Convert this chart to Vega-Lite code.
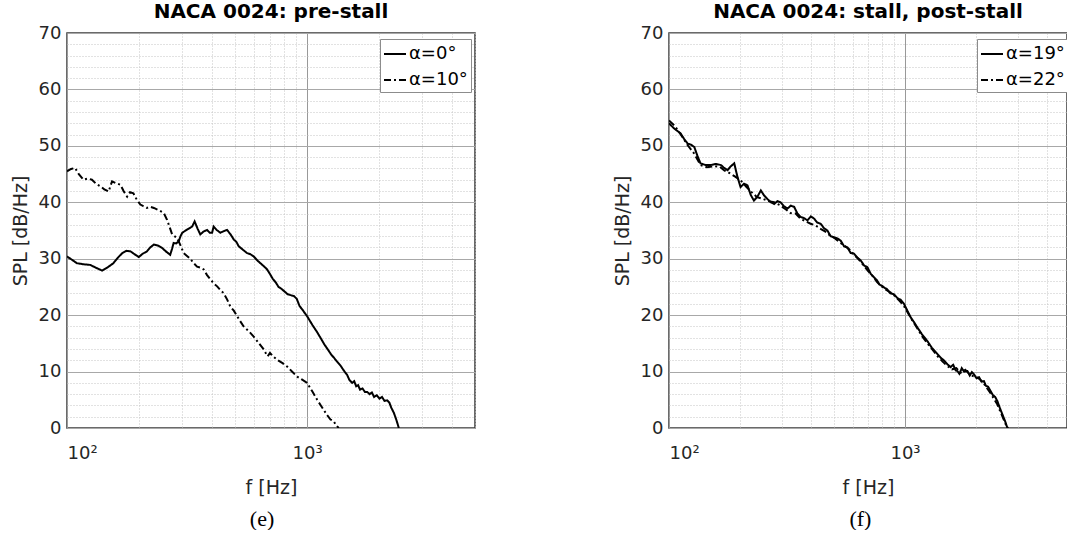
{
  "$schema": "https://vega.github.io/schema/vega-lite/v6.json",
  "padding": {"left": 10, "top": 1, "right": 0, "bottom": 0},
  "background": "white",
  "config": {
    "font": "DejaVu Sans",
    "view": {"stroke": "#3a3a3a", "strokeWidth": 1.5},
    "axis": {
      "labelFont": "DejaVu Sans",
      "labelFontSize": 18,
      "labelColor": "#262626",
      "titleFont": "DejaVu Sans",
      "titleFontSize": 19,
      "titleFontWeight": "normal",
      "titleColor": "#262626",
      "ticks": false,
      "domain": false,
      "labelOverlap": false
    },
    "legend": {
      "labelFont": "DejaVu Sans",
      "labelFontSize": 18,
      "labelColor": "black"
    },
    "title": {"font": "DejaVu Sans", "color": "black"}
  },
  "resolve": {"scale": {"strokeDash": "independent"}, "legend": {"strokeDash": "independent"}},
  "datasets": {
    "e": [
      {"f": 100, "spl": 30.4, "series": "α=0°"},
      {"f": 105, "spl": 29.8, "series": "α=0°"},
      {"f": 110, "spl": 29.2, "series": "α=0°"},
      {"f": 118, "spl": 29.0, "series": "α=0°"},
      {"f": 125, "spl": 28.9, "series": "α=0°"},
      {"f": 132, "spl": 28.4, "series": "α=0°"},
      {"f": 140, "spl": 27.9, "series": "α=0°"},
      {"f": 148, "spl": 28.5, "series": "α=0°"},
      {"f": 156, "spl": 29.2, "series": "α=0°"},
      {"f": 163, "spl": 30.2, "series": "α=0°"},
      {"f": 170, "spl": 31.0, "series": "α=0°"},
      {"f": 177, "spl": 31.4, "series": "α=0°"},
      {"f": 184, "spl": 31.3, "series": "α=0°"},
      {"f": 191, "spl": 30.8, "series": "α=0°"},
      {"f": 199, "spl": 30.3, "series": "α=0°"},
      {"f": 207, "spl": 30.9, "series": "α=0°"},
      {"f": 215, "spl": 31.3, "series": "α=0°"},
      {"f": 222, "spl": 32.0, "series": "α=0°"},
      {"f": 230, "spl": 32.5, "series": "α=0°"},
      {"f": 240, "spl": 32.3, "series": "α=0°"},
      {"f": 249, "spl": 31.9, "series": "α=0°"},
      {"f": 258, "spl": 31.3, "series": "α=0°"},
      {"f": 269, "spl": 30.7, "series": "α=0°"},
      {"f": 274, "spl": 31.8, "series": "α=0°"},
      {"f": 278, "spl": 32.8, "series": "α=0°"},
      {"f": 285, "spl": 32.7, "series": "α=0°"},
      {"f": 292, "spl": 33.1, "series": "α=0°"},
      {"f": 297, "spl": 34.0, "series": "α=0°"},
      {"f": 302, "spl": 34.6, "series": "α=0°"},
      {"f": 317, "spl": 35.2, "series": "α=0°"},
      {"f": 332, "spl": 35.7, "series": "α=0°"},
      {"f": 340, "spl": 36.6, "series": "α=0°"},
      {"f": 350, "spl": 35.3, "series": "α=0°"},
      {"f": 359, "spl": 34.3, "series": "α=0°"},
      {"f": 370, "spl": 34.8, "series": "α=0°"},
      {"f": 383, "spl": 35.1, "series": "α=0°"},
      {"f": 393, "spl": 34.6, "series": "α=0°"},
      {"f": 402, "spl": 34.6, "series": "α=0°"},
      {"f": 408, "spl": 35.7, "series": "α=0°"},
      {"f": 420, "spl": 35.1, "series": "α=0°"},
      {"f": 435, "spl": 34.6, "series": "α=0°"},
      {"f": 450, "spl": 34.9, "series": "α=0°"},
      {"f": 464, "spl": 35.1, "series": "α=0°"},
      {"f": 480, "spl": 34.3, "series": "α=0°"},
      {"f": 495, "spl": 33.4, "series": "α=0°"},
      {"f": 507, "spl": 33.0, "series": "α=0°"},
      {"f": 519, "spl": 32.2, "series": "α=0°"},
      {"f": 540, "spl": 31.6, "series": "α=0°"},
      {"f": 562, "spl": 31.0, "series": "α=0°"},
      {"f": 580, "spl": 30.8, "series": "α=0°"},
      {"f": 599, "spl": 30.4, "series": "α=0°"},
      {"f": 620, "spl": 29.7, "series": "α=0°"},
      {"f": 639, "spl": 29.2, "series": "α=0°"},
      {"f": 655, "spl": 28.8, "series": "α=0°"},
      {"f": 671, "spl": 28.4, "series": "α=0°"},
      {"f": 681, "spl": 28.1, "series": "α=0°"},
      {"f": 700, "spl": 27.3, "series": "α=0°"},
      {"f": 720, "spl": 26.4, "series": "α=0°"},
      {"f": 740, "spl": 25.8, "series": "α=0°"},
      {"f": 760, "spl": 25.0, "series": "α=0°"},
      {"f": 774, "spl": 24.8, "series": "α=0°"},
      {"f": 800, "spl": 24.3, "series": "α=0°"},
      {"f": 830, "spl": 23.7, "series": "α=0°"},
      {"f": 860, "spl": 23.5, "series": "α=0°"},
      {"f": 880, "spl": 23.4, "series": "α=0°"},
      {"f": 905, "spl": 22.9, "series": "α=0°"},
      {"f": 930, "spl": 21.6, "series": "α=0°"},
      {"f": 955, "spl": 21.0, "series": "α=0°"},
      {"f": 980, "spl": 20.3, "series": "α=0°"},
      {"f": 1000, "spl": 19.8, "series": "α=0°"},
      {"f": 1050, "spl": 18.3, "series": "α=0°"},
      {"f": 1100, "spl": 17.0, "series": "α=0°"},
      {"f": 1136, "spl": 16.0, "series": "α=0°"},
      {"f": 1180, "spl": 14.8, "series": "α=0°"},
      {"f": 1220, "spl": 13.9, "series": "α=0°"},
      {"f": 1260, "spl": 13.0, "series": "α=0°"},
      {"f": 1291, "spl": 12.5, "series": "α=0°"},
      {"f": 1330, "spl": 11.8, "series": "α=0°"},
      {"f": 1380, "spl": 11.0, "series": "α=0°"},
      {"f": 1420, "spl": 10.2, "series": "α=0°"},
      {"f": 1468, "spl": 9.4, "series": "α=0°"},
      {"f": 1500, "spl": 8.5, "series": "α=0°"},
      {"f": 1540, "spl": 8.0, "series": "α=0°"},
      {"f": 1570, "spl": 8.3, "series": "α=0°"},
      {"f": 1600, "spl": 7.4, "series": "α=0°"},
      {"f": 1630, "spl": 7.6, "series": "α=0°"},
      {"f": 1660, "spl": 6.8, "series": "α=0°"},
      {"f": 1700, "spl": 7.0, "series": "α=0°"},
      {"f": 1740, "spl": 6.4, "series": "α=0°"},
      {"f": 1778, "spl": 6.4, "series": "α=0°"},
      {"f": 1820, "spl": 6.0, "series": "α=0°"},
      {"f": 1860, "spl": 6.3, "series": "α=0°"},
      {"f": 1900, "spl": 5.5, "series": "α=0°"},
      {"f": 1950, "spl": 5.8, "series": "α=0°"},
      {"f": 2000, "spl": 5.2, "series": "α=0°"},
      {"f": 2050, "spl": 5.5, "series": "α=0°"},
      {"f": 2100, "spl": 4.8, "series": "α=0°"},
      {"f": 2154, "spl": 4.9, "series": "α=0°"},
      {"f": 2200, "spl": 4.5, "series": "α=0°"},
      {"f": 2240, "spl": 3.6, "series": "α=0°"},
      {"f": 2296, "spl": 2.7, "series": "α=0°"},
      {"f": 2350, "spl": 1.5, "series": "α=0°"},
      {"f": 2409, "spl": 0.0, "series": "α=0°"},
      {"f": 100, "spl": 45.5, "series": "α=10°"},
      {"f": 104, "spl": 45.9, "series": "α=10°"},
      {"f": 108, "spl": 46.1, "series": "α=10°"},
      {"f": 112, "spl": 45.0, "series": "α=10°"},
      {"f": 117, "spl": 44.0, "series": "α=10°"},
      {"f": 122, "spl": 44.2, "series": "α=10°"},
      {"f": 127, "spl": 44.0, "series": "α=10°"},
      {"f": 132, "spl": 43.3, "series": "α=10°"},
      {"f": 138, "spl": 42.8, "series": "α=10°"},
      {"f": 143, "spl": 42.3, "series": "α=10°"},
      {"f": 149, "spl": 41.9, "series": "α=10°"},
      {"f": 154, "spl": 43.7, "series": "α=10°"},
      {"f": 160, "spl": 43.4, "series": "α=10°"},
      {"f": 167, "spl": 43.1, "series": "α=10°"},
      {"f": 172, "spl": 42.0, "series": "α=10°"},
      {"f": 178, "spl": 41.0, "series": "α=10°"},
      {"f": 183, "spl": 41.8, "series": "α=10°"},
      {"f": 189, "spl": 41.6, "series": "α=10°"},
      {"f": 195, "spl": 40.5, "series": "α=10°"},
      {"f": 202, "spl": 39.6, "series": "α=10°"},
      {"f": 208, "spl": 39.3, "series": "α=10°"},
      {"f": 215, "spl": 39.0, "series": "α=10°"},
      {"f": 222, "spl": 39.2, "series": "α=10°"},
      {"f": 230, "spl": 39.0, "series": "α=10°"},
      {"f": 241, "spl": 38.6, "series": "α=10°"},
      {"f": 253, "spl": 38.1, "series": "α=10°"},
      {"f": 261, "spl": 36.9, "series": "α=10°"},
      {"f": 268, "spl": 35.5, "series": "α=10°"},
      {"f": 274, "spl": 34.3, "series": "α=10°"},
      {"f": 280, "spl": 34.0, "series": "α=10°"},
      {"f": 287, "spl": 33.7, "series": "α=10°"},
      {"f": 296, "spl": 32.5, "series": "α=10°"},
      {"f": 306, "spl": 31.0, "series": "α=10°"},
      {"f": 316, "spl": 30.5, "series": "α=10°"},
      {"f": 326, "spl": 30.0, "series": "α=10°"},
      {"f": 337, "spl": 29.2, "series": "α=10°"},
      {"f": 348, "spl": 28.6, "series": "α=10°"},
      {"f": 360, "spl": 28.4, "series": "α=10°"},
      {"f": 371, "spl": 28.1, "series": "α=10°"},
      {"f": 383, "spl": 27.1, "series": "α=10°"},
      {"f": 396, "spl": 26.3, "series": "α=10°"},
      {"f": 409, "spl": 25.6, "series": "α=10°"},
      {"f": 422, "spl": 25.1, "series": "α=10°"},
      {"f": 436, "spl": 24.4, "series": "α=10°"},
      {"f": 449, "spl": 23.9, "series": "α=10°"},
      {"f": 464, "spl": 22.8, "series": "α=10°"},
      {"f": 479, "spl": 21.5, "series": "α=10°"},
      {"f": 495, "spl": 20.8, "series": "α=10°"},
      {"f": 511, "spl": 19.8, "series": "α=10°"},
      {"f": 527, "spl": 18.9, "series": "α=10°"},
      {"f": 544, "spl": 18.0, "series": "α=10°"},
      {"f": 570, "spl": 17.2, "series": "α=10°"},
      {"f": 599, "spl": 16.2, "series": "α=10°"},
      {"f": 630, "spl": 15.0, "series": "α=10°"},
      {"f": 660, "spl": 13.9, "series": "α=10°"},
      {"f": 672, "spl": 13.3, "series": "α=10°"},
      {"f": 685, "spl": 12.7, "series": "α=10°"},
      {"f": 700, "spl": 13.3, "series": "α=10°"},
      {"f": 725, "spl": 12.6, "series": "α=10°"},
      {"f": 750, "spl": 12.1, "series": "α=10°"},
      {"f": 790, "spl": 11.5, "series": "α=10°"},
      {"f": 825, "spl": 10.9, "series": "α=10°"},
      {"f": 865, "spl": 10.0, "series": "α=10°"},
      {"f": 909, "spl": 9.1, "series": "α=10°"},
      {"f": 950, "spl": 8.6, "series": "α=10°"},
      {"f": 1000, "spl": 8.0, "series": "α=10°"},
      {"f": 1050, "spl": 6.5, "series": "α=10°"},
      {"f": 1101, "spl": 5.0, "series": "α=10°"},
      {"f": 1140, "spl": 4.0, "series": "α=10°"},
      {"f": 1173, "spl": 3.2, "series": "α=10°"},
      {"f": 1210, "spl": 2.3, "series": "α=10°"},
      {"f": 1251, "spl": 1.5, "series": "α=10°"},
      {"f": 1290, "spl": 1.2, "series": "α=10°"},
      {"f": 1320, "spl": 0.5, "series": "α=10°"},
      {"f": 1354, "spl": 0.0, "series": "α=10°"}
    ],
    "f": [
      {"f": 100, "spl": 54.0, "series": "α=19°"},
      {"f": 105, "spl": 53.1, "series": "α=19°"},
      {"f": 112, "spl": 52.2, "series": "α=19°"},
      {"f": 116, "spl": 51.2, "series": "α=19°"},
      {"f": 120, "spl": 50.4, "series": "α=19°"},
      {"f": 124, "spl": 50.2, "series": "α=19°"},
      {"f": 128, "spl": 49.8, "series": "α=19°"},
      {"f": 132, "spl": 48.2, "series": "α=19°"},
      {"f": 136, "spl": 46.9, "series": "α=19°"},
      {"f": 143, "spl": 46.6, "series": "α=19°"},
      {"f": 150, "spl": 46.6, "series": "α=19°"},
      {"f": 158, "spl": 46.8, "series": "α=19°"},
      {"f": 166, "spl": 46.6, "series": "α=19°"},
      {"f": 171, "spl": 46.1, "series": "α=19°"},
      {"f": 177, "spl": 45.7, "series": "α=19°"},
      {"f": 183, "spl": 46.4, "series": "α=19°"},
      {"f": 189, "spl": 46.9, "series": "α=19°"},
      {"f": 195, "spl": 44.5, "series": "α=19°"},
      {"f": 201, "spl": 42.7, "series": "α=19°"},
      {"f": 208, "spl": 43.3, "series": "α=19°"},
      {"f": 215, "spl": 43.0, "series": "α=19°"},
      {"f": 222, "spl": 41.3, "series": "α=19°"},
      {"f": 229, "spl": 40.3, "series": "α=19°"},
      {"f": 237, "spl": 41.0, "series": "α=19°"},
      {"f": 245, "spl": 42.1, "series": "α=19°"},
      {"f": 253, "spl": 41.2, "series": "α=19°"},
      {"f": 261, "spl": 40.6, "series": "α=19°"},
      {"f": 270, "spl": 40.0, "series": "α=19°"},
      {"f": 279, "spl": 39.7, "series": "α=19°"},
      {"f": 288, "spl": 40.2, "series": "α=19°"},
      {"f": 297, "spl": 40.0, "series": "α=19°"},
      {"f": 307, "spl": 39.3, "series": "α=19°"},
      {"f": 318, "spl": 38.9, "series": "α=19°"},
      {"f": 328, "spl": 39.4, "series": "α=19°"},
      {"f": 339, "spl": 39.2, "series": "α=19°"},
      {"f": 350, "spl": 38.0, "series": "α=19°"},
      {"f": 361, "spl": 37.4, "series": "α=19°"},
      {"f": 373, "spl": 37.2, "series": "α=19°"},
      {"f": 386, "spl": 36.8, "series": "α=19°"},
      {"f": 399, "spl": 37.5, "series": "α=19°"},
      {"f": 412, "spl": 37.1, "series": "α=19°"},
      {"f": 425, "spl": 36.4, "series": "α=19°"},
      {"f": 439, "spl": 36.2, "series": "α=19°"},
      {"f": 454, "spl": 35.4, "series": "α=19°"},
      {"f": 469, "spl": 35.0, "series": "α=19°"},
      {"f": 484, "spl": 34.0, "series": "α=19°"},
      {"f": 500, "spl": 33.8, "series": "α=19°"},
      {"f": 517, "spl": 33.6, "series": "α=19°"},
      {"f": 534, "spl": 33.2, "series": "α=19°"},
      {"f": 552, "spl": 32.2, "series": "α=19°"},
      {"f": 570, "spl": 32.0, "series": "α=19°"},
      {"f": 589, "spl": 31.0, "series": "α=19°"},
      {"f": 608, "spl": 30.9, "series": "α=19°"},
      {"f": 628, "spl": 30.2, "series": "α=19°"},
      {"f": 649, "spl": 29.7, "series": "α=19°"},
      {"f": 671, "spl": 28.8, "series": "α=19°"},
      {"f": 693, "spl": 28.5, "series": "α=19°"},
      {"f": 716, "spl": 27.3, "series": "α=19°"},
      {"f": 739, "spl": 26.7, "series": "α=19°"},
      {"f": 760, "spl": 26.2, "series": "α=19°"},
      {"f": 780, "spl": 25.4, "series": "α=19°"},
      {"f": 800, "spl": 25.2, "series": "α=19°"},
      {"f": 815, "spl": 24.9, "series": "α=19°"},
      {"f": 840, "spl": 24.6, "series": "α=19°"},
      {"f": 865, "spl": 23.9, "series": "α=19°"},
      {"f": 898, "spl": 23.7, "series": "α=19°"},
      {"f": 930, "spl": 23.0, "series": "α=19°"},
      {"f": 960, "spl": 22.7, "series": "α=19°"},
      {"f": 990, "spl": 22.0, "series": "α=19°"},
      {"f": 1020, "spl": 20.9, "series": "α=19°"},
      {"f": 1057, "spl": 19.6, "series": "α=19°"},
      {"f": 1090, "spl": 18.8, "series": "α=19°"},
      {"f": 1129, "spl": 17.8, "series": "α=19°"},
      {"f": 1180, "spl": 16.6, "series": "α=19°"},
      {"f": 1244, "spl": 15.4, "series": "α=19°"},
      {"f": 1300, "spl": 14.2, "series": "α=19°"},
      {"f": 1372, "spl": 13.1, "series": "α=19°"},
      {"f": 1420, "spl": 12.4, "series": "α=19°"},
      {"f": 1460, "spl": 12.0, "series": "α=19°"},
      {"f": 1512, "spl": 11.3, "series": "α=19°"},
      {"f": 1560, "spl": 10.8, "series": "α=19°"},
      {"f": 1600, "spl": 11.2, "series": "α=19°"},
      {"f": 1640, "spl": 10.2, "series": "α=19°"},
      {"f": 1667, "spl": 10.1, "series": "α=19°"},
      {"f": 1700, "spl": 9.6, "series": "α=19°"},
      {"f": 1740, "spl": 10.6, "series": "α=19°"},
      {"f": 1780, "spl": 10.0, "series": "α=19°"},
      {"f": 1838, "spl": 10.1, "series": "α=19°"},
      {"f": 1880, "spl": 9.3, "series": "α=19°"},
      {"f": 1920, "spl": 9.9, "series": "α=19°"},
      {"f": 1961, "spl": 9.5, "series": "α=19°"},
      {"f": 2010, "spl": 8.8, "series": "α=19°"},
      {"f": 2060, "spl": 9.0, "series": "α=19°"},
      {"f": 2110, "spl": 8.2, "series": "α=19°"},
      {"f": 2161, "spl": 8.3, "series": "α=19°"},
      {"f": 2200, "spl": 7.5, "series": "α=19°"},
      {"f": 2250, "spl": 7.3, "series": "α=19°"},
      {"f": 2308, "spl": 6.5, "series": "α=19°"},
      {"f": 2360, "spl": 5.8, "series": "α=19°"},
      {"f": 2410, "spl": 5.5, "series": "α=19°"},
      {"f": 2463, "spl": 4.75, "series": "α=19°"},
      {"f": 2520, "spl": 3.6, "series": "α=19°"},
      {"f": 2586, "spl": 2.4, "series": "α=19°"},
      {"f": 2650, "spl": 1.3, "series": "α=19°"},
      {"f": 2716, "spl": 0.0, "series": "α=19°"},
      {"f": 100, "spl": 54.5, "series": "α=22°"},
      {"f": 106, "spl": 53.5, "series": "α=22°"},
      {"f": 113, "spl": 51.8, "series": "α=22°"},
      {"f": 120, "spl": 50.1, "series": "α=22°"},
      {"f": 128, "spl": 48.6, "series": "α=22°"},
      {"f": 136, "spl": 46.6, "series": "α=22°"},
      {"f": 145, "spl": 46.2, "series": "α=22°"},
      {"f": 155, "spl": 46.4, "series": "α=22°"},
      {"f": 164, "spl": 46.3, "series": "α=22°"},
      {"f": 172, "spl": 45.6, "series": "α=22°"},
      {"f": 180, "spl": 45.2, "series": "α=22°"},
      {"f": 190, "spl": 44.6, "series": "α=22°"},
      {"f": 201, "spl": 43.9, "series": "α=22°"},
      {"f": 212, "spl": 42.8, "series": "α=22°"},
      {"f": 224, "spl": 41.8, "series": "α=22°"},
      {"f": 236, "spl": 40.9, "series": "α=22°"},
      {"f": 250, "spl": 40.6, "series": "α=22°"},
      {"f": 264, "spl": 40.2, "series": "α=22°"},
      {"f": 279, "spl": 40.0, "series": "α=22°"},
      {"f": 295, "spl": 39.5, "series": "α=22°"},
      {"f": 311, "spl": 38.8, "series": "α=22°"},
      {"f": 327, "spl": 38.1, "series": "α=22°"},
      {"f": 344, "spl": 38.0, "series": "α=22°"},
      {"f": 361, "spl": 37.1, "series": "α=22°"},
      {"f": 380, "spl": 36.6, "series": "α=22°"},
      {"f": 398, "spl": 36.2, "series": "α=22°"},
      {"f": 418, "spl": 35.9, "series": "α=22°"},
      {"f": 439, "spl": 35.3, "series": "α=22°"},
      {"f": 460, "spl": 34.8, "series": "α=22°"},
      {"f": 482, "spl": 34.1, "series": "α=22°"},
      {"f": 505, "spl": 33.6, "series": "α=22°"},
      {"f": 529, "spl": 32.9, "series": "α=22°"},
      {"f": 554, "spl": 32.3, "series": "α=22°"},
      {"f": 580, "spl": 31.7, "series": "α=22°"},
      {"f": 608, "spl": 30.7, "series": "α=22°"},
      {"f": 636, "spl": 29.9, "series": "α=22°"},
      {"f": 665, "spl": 28.9, "series": "α=22°"},
      {"f": 695, "spl": 27.9, "series": "α=22°"},
      {"f": 727, "spl": 27.0, "series": "α=22°"},
      {"f": 760, "spl": 25.9, "series": "α=22°"},
      {"f": 795, "spl": 25.1, "series": "α=22°"},
      {"f": 830, "spl": 24.5, "series": "α=22°"},
      {"f": 870, "spl": 24.0, "series": "α=22°"},
      {"f": 910, "spl": 23.3, "series": "α=22°"},
      {"f": 950, "spl": 22.5, "series": "α=22°"},
      {"f": 990, "spl": 21.6, "series": "α=22°"},
      {"f": 1035, "spl": 20.2, "series": "α=22°"},
      {"f": 1080, "spl": 18.9, "series": "α=22°"},
      {"f": 1130, "spl": 17.6, "series": "α=22°"},
      {"f": 1185, "spl": 16.2, "series": "α=22°"},
      {"f": 1240, "spl": 15.1, "series": "α=22°"},
      {"f": 1300, "spl": 14.0, "series": "α=22°"},
      {"f": 1370, "spl": 12.8, "series": "α=22°"},
      {"f": 1440, "spl": 11.8, "series": "α=22°"},
      {"f": 1510, "spl": 11.0, "series": "α=22°"},
      {"f": 1580, "spl": 10.4, "series": "α=22°"},
      {"f": 1650, "spl": 10.6, "series": "α=22°"},
      {"f": 1720, "spl": 9.8, "series": "α=22°"},
      {"f": 1800, "spl": 10.3, "series": "α=22°"},
      {"f": 1870, "spl": 9.6, "series": "α=22°"},
      {"f": 1940, "spl": 9.2, "series": "α=22°"},
      {"f": 2010, "spl": 9.0, "series": "α=22°"},
      {"f": 2080, "spl": 8.6, "series": "α=22°"},
      {"f": 2150, "spl": 8.0, "series": "α=22°"},
      {"f": 2230, "spl": 7.0, "series": "α=22°"},
      {"f": 2300, "spl": 6.2, "series": "α=22°"},
      {"f": 2380, "spl": 5.2, "series": "α=22°"},
      {"f": 2460, "spl": 4.2, "series": "α=22°"},
      {"f": 2540, "spl": 2.8, "series": "α=22°"},
      {"f": 2620, "spl": 1.5, "series": "α=22°"},
      {"f": 2700, "spl": 0.2, "series": "α=22°"},
      {"f": 2740, "spl": 0.0, "series": "α=22°"}
    ]
  },
  "spacing": 136,
  "hconcat": [
    {
      "title": {"text": "(e)", "orient": "bottom", "anchor": "middle", "font": "Liberation Serif", "fontSize": 22, "fontWeight": "normal", "color": "black", "dx": 19, "offset": 11},
      "vconcat": [
        {
          "width": 408,
          "height": 395,
          "title": {"text": "NACA 0024: pre-stall", "fontSize": 20, "fontWeight": "bold", "offset": 2, "anchor": "middle"},
          "data": {"name": "e"},
          "mark": {"type": "line", "color": "black", "strokeWidth": 2, "clip": true},
          "encoding": {
            "x": {
              "field": "f", "type": "quantitative",
              "scale": {"type": "log", "domain": [100, 5000], "nice": false},
              "axis": {
                "title": "f [Hz]",
                "values": [100, 200, 300, 400, 500, 600, 700, 800, 900, 1000, 2000, 3000, 4000, 5000],
                "labelExpr": "datum.value == 100 ? '10²' : (datum.value == 1000 ? '10³' : '')",
                "labelPadding": 16,
                "titlePadding": 16,
                "grid": true,
                "gridColor": {"condition": {"test": "datum.value == 100 || datum.value == 1000", "value": "#999999"}, "value": "#c4c4c4"},
                "gridDash": {"condition": {"test": "datum.value == 100 || datum.value == 1000", "value": []}, "value": [1, 2]},
                "gridWidth": 1
              }
            },
            "y": {
              "field": "spl", "type": "quantitative",
              "scale": {"domain": [0, 70], "nice": false},
              "axis": {
                "title": "SPL [dB/Hz]",
                "values": [0, 2, 4, 6, 8, 10, 12, 14, 16, 18, 20, 22, 24, 26, 28, 30, 32, 34, 36, 38, 40, 42, 44, 46, 48, 50, 52, 54, 56, 58, 60, 62, 64, 66, 68, 70],
                "labelExpr": "datum.value % 10 == 0 ? datum.label : ''",
                "labelPadding": 6,
                "titlePadding": 8,
                "grid": true,
                "gridColor": {"condition": {"test": "datum.value % 10 == 0", "value": "#a8a8a8"}, "value": "#c4c4c4"},
                "gridDash": {"condition": {"test": "datum.value % 10 == 0", "value": []}, "value": [1, 2]},
                "gridWidth": 1
              }
            },
            "strokeDash": {
              "field": "series", "type": "nominal",
              "scale": {"domain": ["α=0°", "α=10°"], "range": [[1, 0], [7, 3, 2, 3]]},
              "legend": {
                "title": null, "orient": "none", "legendX": 313, "legendY": 6,
                "strokeColor": "#8c8c8c", "fillColor": "white", "padding": 3,
                "symbolType": "stroke", "symbolSize": 484, "symbolStrokeWidth": 2, "symbolStrokeColor": "black",
                "labelOffset": 2, "rowPadding": 5
              }
            }
          }
        }
      ]
    },
    {
      "title": {"text": "(f)", "orient": "bottom", "anchor": "middle", "font": "Liberation Serif", "fontSize": 22, "fontWeight": "normal", "color": "black", "dx": 20, "offset": 11},
      "vconcat": [
        {
          "width": 398,
          "height": 395,
          "title": {"text": "NACA 0024: stall, post-stall", "fontSize": 20, "fontWeight": "bold", "offset": 2, "anchor": "middle"},
          "data": {"name": "f"},
          "mark": {"type": "line", "color": "black", "strokeWidth": 2, "clip": true},
          "encoding": {
            "x": {
              "field": "f", "type": "quantitative",
              "scale": {"type": "log", "domain": [100, 4857], "nice": false},
              "axis": {
                "title": "f [Hz]",
                "values": [100, 200, 300, 400, 500, 600, 700, 800, 900, 1000, 2000, 3000, 4000],
                "labelExpr": "datum.value == 100 ? '10²' : (datum.value == 1000 ? '10³' : '')",
                "labelPadding": 16,
                "titlePadding": 16,
                "grid": true,
                "gridColor": {"condition": {"test": "datum.value == 100 || datum.value == 1000", "value": "#999999"}, "value": "#c4c4c4"},
                "gridDash": {"condition": {"test": "datum.value == 100 || datum.value == 1000", "value": []}, "value": [1, 2]},
                "gridWidth": 1
              }
            },
            "y": {
              "field": "spl", "type": "quantitative",
              "scale": {"domain": [0, 70], "nice": false},
              "axis": {
                "title": "SPL [dB/Hz]",
                "values": [0, 2, 4, 6, 8, 10, 12, 14, 16, 18, 20, 22, 24, 26, 28, 30, 32, 34, 36, 38, 40, 42, 44, 46, 48, 50, 52, 54, 56, 58, 60, 62, 64, 66, 68, 70],
                "labelExpr": "datum.value % 10 == 0 ? datum.label : ''",
                "labelPadding": 6,
                "titlePadding": 8,
                "grid": true,
                "gridColor": {"condition": {"test": "datum.value % 10 == 0", "value": "#a8a8a8"}, "value": "#c4c4c4"},
                "gridDash": {"condition": {"test": "datum.value % 10 == 0", "value": []}, "value": [1, 2]},
                "gridWidth": 1
              }
            },
            "strokeDash": {
              "field": "series", "type": "nominal",
              "scale": {"domain": ["α=19°", "α=22°"], "range": [[1, 0], [7, 3, 2, 3]]},
              "legend": {
                "title": null, "orient": "none", "legendX": 308, "legendY": 6,
                "strokeColor": "#8c8c8c", "fillColor": "white", "padding": 3,
                "symbolType": "stroke", "symbolSize": 484, "symbolStrokeWidth": 2, "symbolStrokeColor": "black",
                "labelOffset": 2, "rowPadding": 5
              }
            }
          }
        }
      ]
    }
  ]
}
